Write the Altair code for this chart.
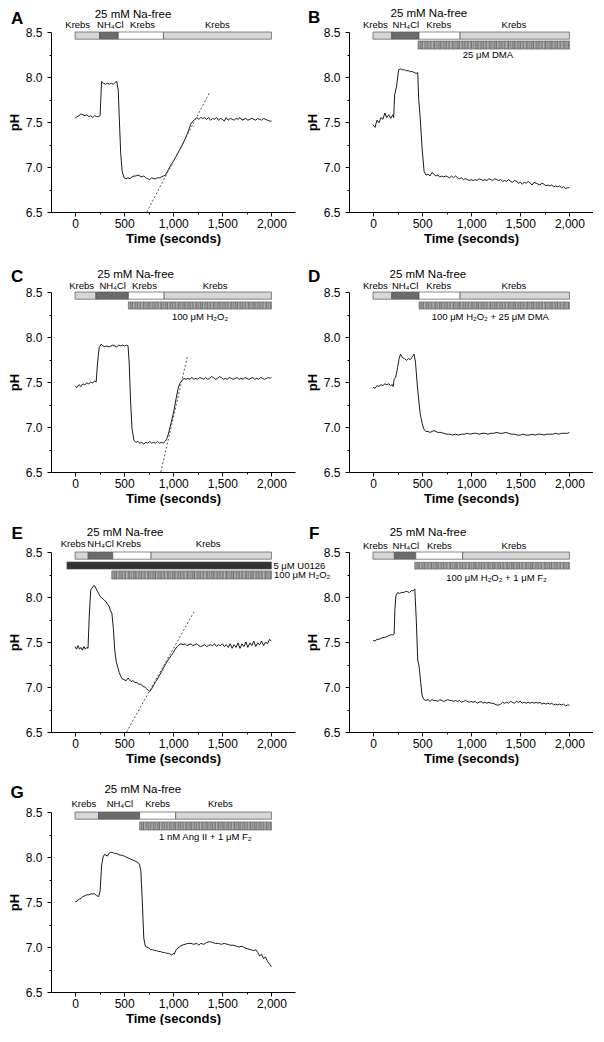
import altair as alt
import pandas as pd

FONT = "Liberation Sans"
W, H = 244, 180
XDOM = [-245, 2240]
YDOM = [6.5, 8.5]
XTICKS = [0, 250, 500, 750, 1000, 1250, 1500, 1750, 2000]
YTICKS = [6.5, 6.75, 7.0, 7.25, 7.5, 7.75, 8.0, 8.25, 8.5]
FILLS = {"L": "#d6d6d6", "D": "#6b6b6b", "W": "#ffffff", "T": "#8e8e8e", "K": "#333333"}

# ---------------- traces (time s, pH) ----------------
A_trace = [(0,7.54),(20,7.56),(40,7.57),(60,7.59),(80,7.58),(100,7.57),(120,7.58),(140,7.56),(160,7.57),(180,7.55),(200,7.57),(220,7.56),(240,7.56),(255,7.57),(262,7.75),(270,7.95),(290,7.93),(310,7.92),(330,7.93),(350,7.92),(370,7.93),(390,7.92),(410,7.94),(425,7.95),(440,7.85),(452,7.5),(465,7.15),(480,6.95),(500,6.88),(520,6.87),(540,6.88),(560,6.87),(580,6.89),(600,6.90),(620,6.90),(640,6.91),(660,6.90),(680,6.89),(700,6.90),(720,6.88),(740,6.87),(760,6.86),(780,6.88),(800,6.87),(820,6.87),(840,6.88),(860,6.88),(880,6.89),(900,6.90),(920,6.91),(940,6.95),(960,6.99),(980,7.03),(1000,7.06),(1020,7.10),(1040,7.14),(1060,7.18),(1080,7.22),(1100,7.26),(1120,7.31),(1140,7.36),(1160,7.42),(1180,7.48),(1200,7.51),(1220,7.53),(1240,7.55),(1260,7.53),(1280,7.55),(1300,7.54),(1320,7.55),(1340,7.53),(1360,7.55),(1380,7.52),(1400,7.54),(1420,7.53),(1440,7.55),(1460,7.52),(1480,7.54),(1500,7.53),(1520,7.51),(1540,7.55),(1560,7.52),(1580,7.54),(1600,7.53),(1620,7.52),(1640,7.54),(1660,7.53),(1680,7.55),(1700,7.52),(1720,7.53),(1740,7.54),(1760,7.52),(1780,7.53),(1800,7.54),(1820,7.53),(1840,7.52),(1860,7.54),(1880,7.53),(1900,7.52),(1920,7.54),(1940,7.53),(1960,7.52),(1980,7.51),(2000,7.51)]

B_trace = [(0,7.47),(20,7.44),(40,7.52),(60,7.49),(80,7.55),(100,7.53),(120,7.60),(140,7.55),(160,7.58),(180,7.54),(200,7.58),(210,7.55),(220,7.80),(240,7.90),(260,8.08),(280,8.09),(300,8.08),(320,8.08),(340,8.07),(360,8.07),(380,8.06),(400,8.06),(420,8.05),(440,8.04),(455,8.05),(465,7.75),(480,7.55),(500,7.2),(520,6.95),(540,6.91),(560,6.92),(580,6.90),(600,6.94),(620,6.92),(640,6.90),(660,6.91),(680,6.89),(700,6.90),(720,6.89),(740,6.90),(760,6.89),(780,6.88),(800,6.90),(820,6.88),(840,6.90),(860,6.88),(880,6.87),(900,6.88),(920,6.86),(940,6.87),(960,6.86),(980,6.85),(1000,6.86),(1020,6.85),(1040,6.86),(1060,6.85),(1080,6.87),(1100,6.86),(1120,6.85),(1140,6.86),(1160,6.85),(1180,6.87),(1200,6.86),(1220,6.85),(1240,6.87),(1260,6.86),(1280,6.85),(1300,6.86),(1320,6.84),(1340,6.85),(1360,6.84),(1380,6.86),(1400,6.84),(1420,6.83),(1440,6.85),(1460,6.84),(1480,6.82),(1500,6.83),(1520,6.81),(1540,6.83),(1560,6.82),(1580,6.84),(1600,6.82),(1620,6.80),(1640,6.83),(1660,6.82),(1680,6.81),(1700,6.80),(1720,6.82),(1740,6.81),(1760,6.79),(1780,6.80),(1800,6.79),(1820,6.80),(1840,6.78),(1860,6.79),(1880,6.78),(1900,6.79),(1920,6.77),(1940,6.78),(1960,6.76),(1980,6.77),(2000,6.77)]

C_trace = [(0,7.45),(20,7.44),(40,7.47),(60,7.45),(80,7.48),(100,7.47),(120,7.49),(140,7.48),(160,7.50),(180,7.49),(200,7.51),(215,7.50),(228,7.70),(245,7.88),(265,7.92),(285,7.90),(305,7.89),(325,7.90),(345,7.89),(365,7.90),(385,7.91),(405,7.90),(425,7.89),(445,7.91),(465,7.90),(485,7.91),(505,7.90),(525,7.91),(540,7.90),(552,7.7),(565,7.3),(580,6.98),(600,6.85),(620,6.83),(640,6.84),(660,6.82),(680,6.83),(700,6.81),(720,6.83),(740,6.82),(760,6.84),(780,6.82),(800,6.83),(820,6.82),(840,6.84),(860,6.82),(880,6.83),(900,6.82),(915,6.84),(930,6.86),(950,6.92),(970,7.01),(990,7.10),(1010,7.20),(1030,7.32),(1050,7.43),(1070,7.49),(1090,7.52),(1110,7.54),(1130,7.53),(1150,7.54),(1170,7.53),(1190,7.55),(1210,7.53),(1230,7.54),(1250,7.53),(1270,7.55),(1290,7.54),(1310,7.53),(1330,7.55),(1350,7.53),(1370,7.54),(1390,7.56),(1410,7.55),(1430,7.53),(1450,7.54),(1470,7.56),(1490,7.55),(1510,7.53),(1530,7.54),(1550,7.53),(1570,7.55),(1590,7.54),(1610,7.53),(1630,7.54),(1650,7.55),(1670,7.53),(1690,7.54),(1710,7.53),(1730,7.55),(1750,7.54),(1770,7.53),(1790,7.54),(1810,7.55),(1830,7.53),(1850,7.54),(1870,7.53),(1890,7.55),(1910,7.54),(1930,7.53),(1950,7.54),(1970,7.55),(1990,7.54),(2000,7.55)]

D_trace = [(0,7.44),(20,7.43),(40,7.46),(60,7.45),(80,7.47),(100,7.46),(120,7.48),(140,7.47),(160,7.48),(180,7.46),(195,7.47),(205,7.45),(215,7.53),(230,7.55),(250,7.66),(265,7.76),(280,7.81),(300,7.77),(320,7.76),(340,7.74),(360,7.76),(380,7.75),(400,7.78),(418,7.81),(432,7.72),(448,7.5),(465,7.3),(480,7.15),(500,7.04),(520,6.97),(540,6.95),(560,6.95),(580,6.94),(600,6.95),(620,6.96),(640,6.95),(660,6.94),(690,6.94),(720,6.93),(750,6.92),(780,6.92),(810,6.91),(840,6.92),(870,6.91),(900,6.92),(930,6.92),(960,6.93),(990,6.92),(1020,6.93),(1050,6.93),(1080,6.92),(1110,6.93),(1140,6.93),(1170,6.92),(1200,6.93),(1230,6.93),(1260,6.94),(1290,6.93),(1320,6.93),(1350,6.94),(1380,6.93),(1410,6.92),(1440,6.92),(1470,6.91),(1500,6.91),(1530,6.92),(1560,6.91),(1590,6.91),(1620,6.92),(1650,6.91),(1680,6.92),(1710,6.92),(1740,6.91),(1770,6.92),(1800,6.92),(1830,6.92),(1860,6.93),(1890,6.92),(1920,6.93),(1950,6.93),(1980,6.93),(2000,6.94)]

E_trace = [(0,7.45),(15,7.42),(30,7.46),(45,7.42),(60,7.44),(75,7.41),(90,7.45),(105,7.42),(120,7.44),(132,7.43),(145,7.8),(160,8.08),(180,8.11),(195,8.13),(210,8.10),(225,8.07),(240,8.04),(255,8.01),(270,7.99),(285,7.98),(300,7.96),(315,7.95),(330,7.92),(345,7.9),(360,7.85),(375,7.82),(390,7.65),(405,7.4),(420,7.28),(435,7.22),(450,7.16),(465,7.12),(480,7.09),(500,7.08),(520,7.07),(540,7.10),(555,7.08),(570,7.06),(590,7.07),(610,7.05),(630,7.05),(650,7.03),(670,7.03),(690,7.01),(710,7.00),(730,6.98),(750,6.96),(762,6.95),(780,6.98),(800,7.02),(820,7.06),(840,7.09),(860,7.13),(880,7.17),(900,7.21),(920,7.25),(940,7.29),(960,7.32),(980,7.35),(1000,7.38),(1020,7.42),(1040,7.45),(1060,7.47),(1080,7.48),(1100,7.47),(1120,7.48),(1140,7.46),(1160,7.47),(1180,7.48),(1200,7.46),(1220,7.47),(1240,7.48),(1260,7.46),(1280,7.45),(1300,7.46),(1320,7.47),(1340,7.45),(1360,7.46),(1380,7.47),(1400,7.46),(1420,7.48),(1440,7.45),(1460,7.47),(1480,7.46),(1500,7.48),(1520,7.45),(1540,7.47),(1560,7.44),(1580,7.48),(1600,7.43),(1620,7.47),(1640,7.44),(1660,7.49),(1680,7.43),(1700,7.48),(1720,7.45),(1740,7.50),(1760,7.44),(1780,7.49),(1800,7.46),(1820,7.51),(1840,7.45),(1860,7.49),(1880,7.47),(1900,7.51),(1920,7.46),(1940,7.50),(1960,7.48),(1980,7.53),(2000,7.51)]

F_trace = [(0,7.52),(20,7.51),(40,7.53),(60,7.53),(80,7.54),(100,7.55),(120,7.55),(140,7.56),(160,7.57),(180,7.58),(200,7.58),(215,7.59),(222,7.85),(232,8.01),(250,8.05),(270,8.04),(290,8.05),(310,8.05),(330,8.06),(350,8.06),(370,8.05),(390,8.07),(410,8.07),(425,8.09),(440,7.75),(455,7.3),(470,7.22),(485,7.05),(500,6.90),(520,6.86),(540,6.85),(560,6.86),(580,6.84),(600,6.86),(620,6.85),(640,6.85),(660,6.84),(680,6.86),(700,6.85),(720,6.84),(740,6.85),(760,6.86),(780,6.85),(800,6.85),(820,6.84),(840,6.85),(860,6.84),(880,6.85),(900,6.83),(920,6.84),(940,6.85),(960,6.84),(980,6.83),(1000,6.84),(1020,6.83),(1040,6.84),(1060,6.82),(1080,6.83),(1100,6.84),(1120,6.82),(1140,6.83),(1160,6.82),(1180,6.83),(1200,6.82),(1220,6.82),(1240,6.81),(1260,6.80),(1280,6.80),(1300,6.81),(1320,6.83),(1340,6.82),(1360,6.83),(1380,6.82),(1400,6.84),(1420,6.83),(1440,6.82),(1460,6.84),(1480,6.83),(1500,6.84),(1520,6.82),(1540,6.83),(1560,6.82),(1580,6.83),(1600,6.82),(1620,6.83),(1640,6.82),(1660,6.83),(1680,6.82),(1700,6.83),(1720,6.81),(1740,6.82),(1760,6.81),(1780,6.82),(1800,6.81),(1820,6.82),(1840,6.80),(1860,6.81),(1880,6.80),(1900,6.81),(1920,6.80),(1940,6.81),(1960,6.79),(1980,6.80),(2000,6.80)]

G_trace = [(0,7.50),(20,7.51),(40,7.53),(60,7.54),(80,7.56),(100,7.57),(120,7.58),(140,7.58),(160,7.59),(180,7.59),(200,7.59),(220,7.57),(240,7.56),(255,7.62),(270,7.9),(285,8.0),(300,8.03),(315,8.02),(330,8.01),(345,8.04),(360,8.05),(380,8.05),(400,8.04),(420,8.04),(440,8.03),(460,8.02),(480,8.02),(500,8.01),(520,8.00),(540,7.99),(560,7.98),(580,7.97),(600,7.96),(620,7.95),(640,7.94),(655,7.92),(670,7.85),(685,7.5),(700,7.1),(715,7.01),(730,7.0),(750,6.99),(770,6.97),(790,6.97),(810,6.96),(830,6.96),(850,6.95),(870,6.95),(890,6.94),(910,6.94),(930,6.93),(950,6.93),(970,6.92),(985,6.91),(1000,6.93),(1010,6.92),(1030,6.97),(1060,7.0),(1090,7.02),(1120,7.03),(1150,7.04),(1180,7.04),(1210,7.03),(1240,7.04),(1260,7.02),(1280,7.04),(1310,7.03),(1340,7.05),(1370,7.06),(1400,7.05),(1430,7.04),(1460,7.04),(1490,7.03),(1520,7.04),(1550,7.03),(1580,7.02),(1610,7.02),(1640,7.01),(1670,7.00),(1700,7.01),(1730,6.99),(1760,6.98),(1790,6.97),(1820,6.96),(1840,6.97),(1860,6.94),(1880,6.90),(1900,6.92),(1920,6.87),(1940,6.89),(1960,6.84),(1980,6.81),(2000,6.78)]

# dotted regression lines (time, pH)
A_fit = [(731, 6.5), (1366, 7.82)]
C_fit = [(873, 6.5), (1143, 7.78)]
E_fit = [(524, 6.5), (1219, 7.85)]

# ---------------- solution bars (start s, end s, fill) ----------------
A_segs = [(0, 250, "L"), (250, 440, "D"), (440, 900, "W"), (900, 2000, "L")]
B_segs = [(0, 190, "L"), (190, 468, "D"), (468, 886, "W"), (886, 2000, "L")]
C_segs = [(0, 213, "L"), (213, 543, "D"), (543, 907, "W"), (907, 2000, "L")]
D_segs = [(0, 190, "L"), (190, 468, "D"), (468, 886, "W"), (886, 2000, "L")]
E_segs = [(0, 134, "L"), (134, 384, "D"), (384, 774, "W"), (774, 2000, "L")]
F_segs = [(0, 217, "L"), (217, 435, "D"), (435, 913, "W"), (913, 2000, "L")]
G_segs = [(0, 240, "L"), (240, 658, "D"), (658, 1025, "W"), (1025, 2000, "L")]

# drug bars (start s, end s, top pH, bottom pH, kind)  T = textured drug bar, K = solid dark bar
A_drugs = []
B_drugs = [(458, 2000, 8.40, 8.31, "T")]
C_drugs = [(543, 2000, 8.39, 8.31, "T")]
D_drugs = [(468, 2000, 8.39, 8.31, "T")]
E_drugs = [(-83, 2000, 8.39, 8.31, "K"), (374, 2000, 8.29, 8.20, "T")]
F_drugs = [(425, 2000, 8.385, 8.31, "T")]
G_drugs = [(658, 2000, 8.39, 8.30, "T")]

# labels (time, pH, text, font size)
A_labels = [(590, 8.69, "25 mM Na-free", 11.5), (27, 8.574, "Krebs", 9.5), (360, 8.574, "NH₄Cl", 9.5), (687, 8.574, "Krebs", 9.5), (1450, 8.574, "Krebs", 9.5)]
B_labels = [(568, 8.70, "25 mM Na-free", 11.5), (23, 8.576, "Krebs", 9.5), (334, 8.576, "NH₄Cl", 9.5), (669, 8.576, "Krebs", 9.5), (1435, 8.576, "Krebs", 9.5), (1170, 8.245, "25 μM DMA", 9.5)]
C_labels = [(617, 8.69, "25 mM Na-free", 11.5), (67, 8.568, "Krebs", 9.5), (383, 8.568, "NH₄Cl", 9.5), (707, 8.568, "Krebs", 9.5), (1427, 8.568, "Krebs", 9.5), (1273, 8.22, "100 μM H₂O₂", 9.5)]
D_labels = [(558, 8.69, "25 mM Na-free", 11.5), (23, 8.565, "Krebs", 9.5), (327, 8.565, "NH₄Cl", 9.5), (669, 8.565, "Krebs", 9.5), (1435, 8.565, "Krebs", 9.5), (1194, 8.22, "100 μM H₂O₂ + 25 μM DMA", 9.5)]
E_labels = [(510, 8.716, "25 mM Na-free", 11.5), (-20, 8.594, "Krebs", 9.5), (260, 8.594, "NH₄Cl", 9.5), (546, 8.594, "Krebs", 9.5), (1356, 8.594, "Krebs", 9.5)]
F_labels = [(560, 8.716, "25 mM Na-free", 11.5), (23, 8.572, "Krebs", 9.5), (334, 8.572, "NH₄Cl", 9.5), (675, 8.572, "Krebs", 9.5), (1435, 8.572, "Krebs", 9.5), (1257, 8.21, "100 μM H₂O₂  +  1 μM F₂", 9.5)]
G_labels = [(690, 8.75, "25 mM Na-free", 11.5), (90, 8.586, "Krebs", 9.5), (457, 8.586, "NH₄Cl", 9.5), (840, 8.586, "Krebs", 9.5), (1480, 8.586, "Krebs", 9.5), (1326, 8.22, "1 nM Ang II + 1 μM F₂", 9.5)]
E_side_labels = [(2020, 8.35, "5 μM U0126", 9.5), (2027, 8.245, "100 μM H₂O₂", 9.5)]

# panel letters (letter, time, pH)
LETTERS = {"A": (-590, 8.65), "B": (-600, 8.66), "C": (-590, 8.67), "D": (-600, 8.67),
           "E": (-590, 8.705), "F": (-600, 8.705), "G": (-590, 8.716)}

# speckled texture for drug bars (style only)
TEX_GRAYS = ["#8a8a8a", "#a8a8a8", "#7c7c7c", "#9c9c9c", "#6f6f6f", "#b2b2b2", "#939393",
             "#858585", "#a1a1a1", "#767676", "#ababab", "#8f8f8f", "#7f7f7f", "#b6b6b6",
             "#979797", "#737373", "#a4a4a4"]
TEX_STOPS = [alt.GradientStop(color=TEX_GRAYS[i % len(TEX_GRAYS)], offset=i / 139) for i in range(140)]
TEXTURE = alt.LinearGradient(gradient="linear", stops=TEX_STOPS, x1=0, x2=1, y1=0, y2=0)

XS = alt.Scale(domain=XDOM, nice=False, zero=False)
YS = alt.Scale(domain=YDOM, nice=False, zero=False)
XAX = alt.Axis(values=XTICKS, labelExpr="datum.value % 500 === 0 ? format(datum.value, ',') : ''",
               tickSize={"condition": {"test": "datum.value % 500 === 0", "value": 4}, "value": 2},
               labelPadding=2, titlePadding=3, labelOverlap=False, labelFlush=False)
YAX = alt.Axis(values=YTICKS, labelExpr="(datum.value * 4) % 2 === 0 ? format(datum.value, '.1f') : ''",
               tickSize={"condition": {"test": "(datum.value * 4) % 2 === 0", "value": 4}, "value": 2},
               labelPadding=5, titlePadding=4, labelOverlap=False, labelFlush=False)


def X(field):
    return alt.X(field, scale=XS, axis=XAX, title="Time (seconds)")


def Y(field):
    return alt.Y(field, scale=YS, axis=YAX, title="pH")


def panel(letter, trace, segs, drugs, labels, fit=None, side=None):
    tdf = pd.DataFrame(trace, columns=["t", "ph"])
    layers = []
    seg_df = pd.DataFrame([(a, b, 8.5, 8.42, FILLS[f]) for a, b, f in segs], columns=["x0", "x1", "y0", "y1", "fill"])
    layers.append(alt.Chart(seg_df).mark_rect(stroke="#555555", strokeWidth=0.7).encode(
        x=X("x0:Q"), x2="x1:Q", y=Y("y0:Q"), y2="y1:Q", fill=alt.Fill("fill:N", scale=None)))
    for kind in ("K", "T"):
        rows = [(a, b, c, d) for a, b, c, d, f in drugs if f == kind]
        if not rows:
            continue
        d_df = pd.DataFrame(rows, columns=["x0", "x1", "y0", "y1"])
        fill = TEXTURE if kind == "T" else FILLS["K"]
        layers.append(alt.Chart(d_df).mark_rect(fill=fill, stroke="#555555", strokeWidth=0.6).encode(
            x=X("x0:Q"), x2="x1:Q", y=Y("y0:Q"), y2="y1:Q"))
    layers.append(alt.Chart(tdf).mark_line(color="black", strokeWidth=0.9).encode(x=X("t:Q"), y=Y("ph:Q")))
    if fit:
        fdf = pd.DataFrame(fit, columns=["t", "ph"])
        layers.append(alt.Chart(fdf).mark_line(color="#555555", strokeWidth=1, strokeDash=[2, 2]).encode(
            x=X("t:Q"), y=Y("ph:Q")))
    ldf = pd.DataFrame(labels, columns=["t", "ph", "text", "size"])
    layers.append(alt.Chart(ldf).mark_text(font=FONT, baseline="middle", align="center", color="black").encode(
        x=X("t:Q"), y=Y("ph:Q"), text="text:N", size=alt.Size("size:Q", scale=None)))
    if side:
        sdf = pd.DataFrame(side, columns=["t", "ph", "text", "size"])
        layers.append(alt.Chart(sdf).mark_text(font=FONT, baseline="middle", align="left", color="black").encode(
            x=X("t:Q"), y=Y("ph:Q"), text="text:N", size=alt.Size("size:Q", scale=None)))
    lt, lp = LETTERS[letter]
    let_df = pd.DataFrame([(lt, lp, letter)], columns=["t", "ph", "text"])
    layers.append(alt.Chart(let_df).mark_text(font=FONT, fontSize=17, fontWeight="bold", baseline="middle",
                                              align="center", color="black").encode(
        x=X("t:Q"), y=Y("ph:Q"), text="text:N"))
    return alt.layer(*layers).properties(width=W, height=H)


panels = [
    panel("A", A_trace, A_segs, A_drugs, A_labels, A_fit),
    panel("B", B_trace, B_segs, B_drugs, B_labels),
    panel("C", C_trace, C_segs, C_drugs, C_labels, C_fit),
    panel("D", D_trace, D_segs, D_drugs, D_labels),
    panel("E", E_trace, E_segs, E_drugs, E_labels, E_fit, E_side_labels),
    panel("F", F_trace, F_segs, F_drugs, F_labels),
    panel("G", G_trace, G_segs, G_drugs, G_labels),
]

chart = alt.concat(*panels, columns=2, spacing={"row": 80, "column": 54}, bounds="flush").properties(
    padding=0
).configure_view(stroke=None).configure_axis(
    domainColor="black", domainWidth=1, tickColor="black", tickWidth=1, grid=False,
    labelFont=FONT, labelFontSize=12, labelColor="black",
    titleFont=FONT, titleFontSize=13, titleFontWeight="bold", titleColor="black"
)

chart.save("out.html", embed_options={"renderer": "svg", "actions": False})
